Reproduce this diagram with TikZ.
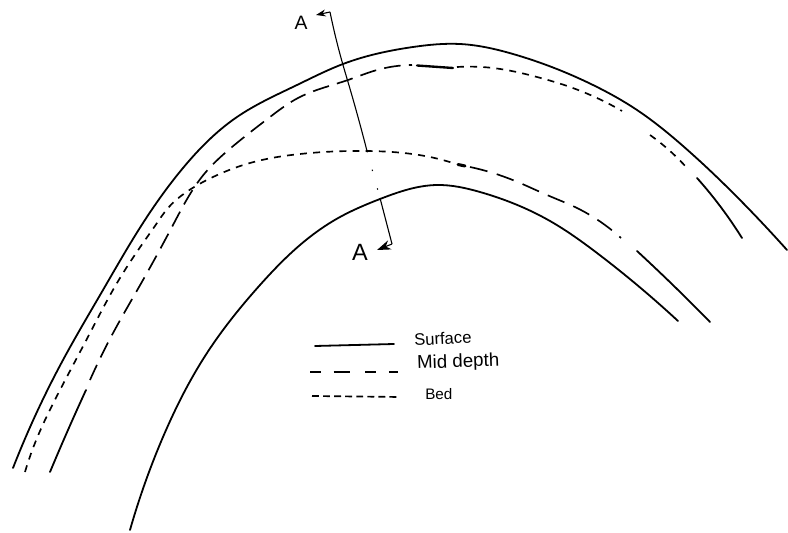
\documentclass[tikz,border=0pt]{standalone}
\usepackage{fontspec}
\setmainfont{Liberation Sans}
\usetikzlibrary{arrows.meta, hobby}
\tikzstyle{surfaceline} = [line width=1.3pt, black, line cap=round, use Hobby shortcut]
\tikzstyle{midline} = [line width=1.2pt, black, dash pattern=on 12pt off 6pt, use Hobby shortcut]
\tikzstyle{bedline} = [line width=1.2pt, black, dash pattern=on 5pt off 4.5pt, use Hobby shortcut]
\tikzstyle{sectionline} = [line width=0.8pt, black, use Hobby shortcut]
\tikzstyle{sectionlabel} = [inner sep=0pt]
\tikzstyle{legendlabel} = [inner sep=0pt, anchor=west]

\begin{document}
\begin{tikzpicture}[x=0.0254cm, y=-0.0254cm]
    \useasboundingbox (0,0) rectangle (788,533);

    % outer bank
    \draw [surfaceline] (13,468) .. (63,360) .. (103,290) .. (143,223) .. (183,168) .. (237,117) .. (297,85) .. (343,64) .. (413,47) .. (460,44) .. (513,54) .. (593,85) .. (637,110) .. (683,146) .. (743,203) .. (787,250);

    % mid depth, upper line
    \draw [surfaceline] (50,472) .. (68,430) .. (86,390);
    \draw [midline] (90,380) .. (112,335) .. (143,280) .. (173,225) .. (205,173) .. (232,147) .. (270,117) .. (298,98) .. (348,80) .. (377,70) .. (412,65);
    \draw [surfaceline, line width=1.7pt] (417,65.5) -- (453,68);
    \draw [bedline] (457,67) .. (493,68) .. (537,77) .. (570,87) .. (622,111);
    \draw [bedline] (650,135) .. (670,151) .. (687,168);
    \draw [surfaceline] (697,178) .. (720,206) .. (742,238);

    % bed, lower line
    \draw [bedline] (25,472) .. (35,443) .. (60,390) .. (90,333) .. (117,283) .. (143,243) .. (157,223) .. (168,208) .. (185,193) .. (213,177) .. (250,163) .. (300,154) .. (367,151) .. (430,157) .. (456,164);
    \draw [surfaceline, line width=2.2pt] (458,164.5) -- (465,166);
    \draw [midline, dash pattern=on 13pt off 7pt] (470,167) .. (493,173) .. (520,183) .. (547,195) .. (577,208) .. (605,225) .. (621,238);
    \draw [surfaceline] (637,251) .. (677,289) .. (710,322);

    % inner bank
    \draw [surfaceline] (130,530) .. (163,437) .. (207,353) .. (260,285) .. (300,245) .. (340,217) .. (380,199) .. (437,185) .. (480,192) .. (550,221) .. (597,253) .. (678,321);

    % section A-A
    \node (atop) [sectionlabel, font=\fontsize{14}{14}\selectfont] at (301,23) {A};
    \node (abot) [sectionlabel, font=\fontsize{17}{17}\selectfont] at (360,252) {A};
    \coordinate (s1) at (330,12);
    \coordinate (s2) at (367,151);
    \coordinate (s3) at (380,198);
    \coordinate (s4) at (392,244);
    \coordinate (atip) at (316,15);
    \coordinate (btip) at (377,250);
    \draw [sectionline, -{Stealth[length=7pt, width=5pt]}] (s1) -- (atip);
    \draw [sectionline] (s1) .. (343,65) .. (348,82) .. (s2);
    \draw [sectionline, dash pattern=on 1pt off 13pt] (s2) -- (s3);
    \draw [sectionline] (s3) -- (s4);
    \draw [sectionline, -{Stealth[length=10pt, width=7pt]}] (s4) -- (btip);

    % legend
    \node (lsurface) [legendlabel, font=\fontsize{12}{14}\selectfont, rotate=3] at (414,340) {Surface};
    \node (lmid) [legendlabel, font=\fontsize{13.5}{15}\selectfont, rotate=2] at (417,364) {Mid depth};
    \node (lbed) [legendlabel, font=\fontsize{11}{13}\selectfont] at (425,394) {Bed};
    \coordinate (k1) at (315,346);
    \coordinate (k2) at (310,372);
    \coordinate (k3) at (312,396);
    \draw [surfaceline] (k1) -- (394,344);
    \draw [midline, dash pattern=on 8pt off 9pt on 12pt off 11pt] (k2) -- (398,372);
    \draw [bedline, dash pattern=on 5pt off 3pt] (k3) -- (400,397);
\end{tikzpicture}
\end{document}
